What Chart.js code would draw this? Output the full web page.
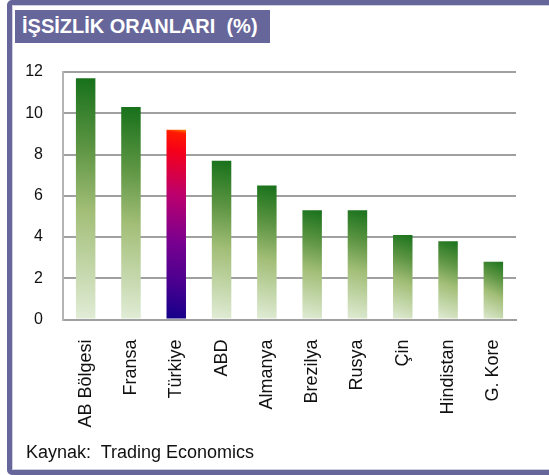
<!DOCTYPE html>
<html>
<head>
<meta charset="utf-8">
<script src="https://cdn.jsdelivr.net/npm/chart.js@4/dist/chart.umd.min.js"></script>
<style>
  html, body { margin: 0; padding: 0; background: #fff; overflow: hidden; }
  body { width: 549px; height: 475px; position: relative; font-family: "Liberation Sans", Arial, sans-serif; }
  #frame {
    position: absolute; left: 7px; top: 0; width: 600px; height: 475px;
    box-sizing: border-box; border: 5px solid #66669a; border-radius: 5px;
    box-shadow: inset 0 0 0 1px #d0d0e2;
  }
  #title {
    position: absolute; left: 15px; top: 10px; width: 255px; height: 33px;
    background: #66669a; color: #fff; font-weight: bold; font-size: 20px;
    line-height: 1; box-sizing: border-box; padding: 6px 0 0 7px; white-space: pre;
  }
  #source {
    position: absolute; left: 26px; top: 443px; font-size: 18px; line-height: 1;
    color: #111; white-space: pre;
  }
  #wrap { position: absolute; left: 0; top: 0; width: 549px; height: 475px; }
</style>
</head>
<body>
<div id="frame"></div>
<div id="wrap"><canvas id="chart" width="549" height="475"></canvas></div>
<div id="title">İŞSİZLİK ORANLARI  (%)</div>
<div id="source">Kaynak:  Trading Economics</div>
<script>
const countries = ['AB Bölgesi', 'Fransa', 'Türkiye', 'ABD', 'Almanya', 'Brezilya', 'Rusya', 'Çin', 'Hindistan', 'G. Kore'];
const rates = [11.7, 10.3, 9.2, 7.7, 6.5, 5.3, 5.3, 4.1, 3.8, 2.8];
const yTicks = [0, 2, 4, 6, 8, 10, 12];
const highlight = 'Türkiye';

const greenStops = [[0, '#16701a'], [0.3, '#5f9644'], [0.55, '#a2be77'], [1, '#e2edd8']];
const turkeyStops = [[0, '#ff9000'], [0.025, '#ff1a00'], [0.12, '#f5001a'], [0.35, '#bb006e'], [0.6, '#760090'], [0.8, '#4a008f'], [1, '#12008a']];

function barGradient(ctx) {
  const chart = ctx.chart;
  if (!chart.chartArea || ctx.type !== 'data') return '#6a9c4b';
  const xs = chart.scales.x, ys = chart.scales.y;
  const top = ys.getPixelForValue(ctx.raw);
  const bottom = ys.getPixelForValue(0);
  const xc = xs.getPixelForValue(ctx.dataIndex);
  const g = chart.ctx.createLinearGradient(xc + 14, top, xc - 14, bottom);
  const stops = countries[ctx.dataIndex] === highlight ? turkeyStops : greenStops;
  stops.forEach(s => g.addColorStop(s[0], s[1]));
  return g;
}

new Chart(document.getElementById('chart'), {
  type: 'bar',
  data: {
    labels: countries,
    datasets: [{
      data: rates,
      backgroundColor: barGradient,
      borderWidth: 0,
      categoryPercentage: 1,
      barPercentage: 0.43
    }]
  },
  options: {
    responsive: false,
    animation: false,
    layout: { padding: { left: 0, top: 72, right: 33, bottom: 0 } },
    plugins: { legend: { display: false }, tooltip: { enabled: false } },
    scales: {
      x: {
        grid: { display: false, drawTicks: false },
        border: { display: true, color: '#a0a0a0', width: 2 },
        ticks: {
          color: '#111',
          font: { family: 'Liberation Sans', size: 18 },
          maxRotation: 90, minRotation: 90, padding: 20, autoSkip: false
        },
        afterFit: s => { s.height = 155.5; }
      },
      y: {
        min: 0, max: 12,
        afterBuildTicks: s => { s.ticks = yTicks.map(v => ({ value: v })); },
        grid: { color: '#a0a0a0', lineWidth: 2, drawTicks: false },
        border: { display: true, color: '#b4b4b4', width: 2 },
        ticks: {
          color: '#111',
          font: { family: 'Liberation Sans', size: 16 },
          padding: 20
        },
        afterFit: s => { s.width = 63; }
      }
    }
  }
});
</script>
</body>
</html>
